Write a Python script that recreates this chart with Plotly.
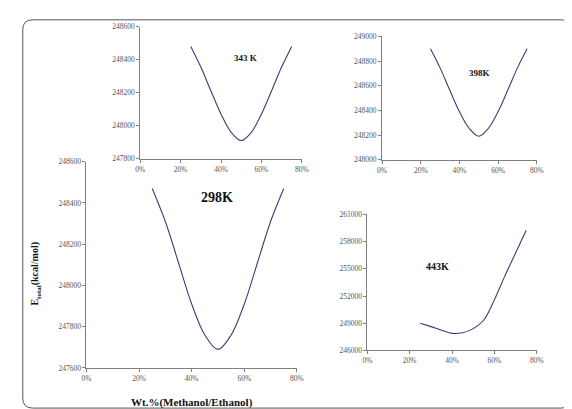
import plotly.graph_objects as go

W, H = 572, 409

# ---- data ----
wt_pct = [25, 30, 35, 40, 45, 50, 55, 60, 65, 70, 75]
e_298 = [248470, 248310, 248110, 247910, 247760, 247690, 247760, 247910, 248110, 248310, 248470]
e_343 = [248480, 248355, 248210, 248070, 247960, 247910, 247960, 248070, 248210, 248355, 248480]
e_398 = [248900, 248745, 248565, 248390, 248255, 248190, 248255, 248390, 248565, 248745, 248900]
e_443 = [249000, 248620, 248230, 247880, 247950, 248400, 249350, 251600, 254250, 256750, 259250]

x_ticks = [0, 20, 40, 60, 80]
x_ticktext = ["0%", "20%", "40%", "60%", "80%"]
y_ticks_298 = [247600, 247800, 248000, 248200, 248400, 248600]
y_ticks_343 = [247800, 248000, 248200, 248400, 248600]
y_ticks_398 = [248000, 248200, 248400, 248600, 248800, 249000]
y_ticks_443 = [246000, 249000, 252000, 255000, 258000, 261000]

def px_x(a, b):
    return [a / W, b / W]

def px_y(top, bottom):
    return [1 - bottom / H, 1 - top / H]

line_col = "#3c3c78"
axis_col = "#808080"
tick_font = dict(family="Liberation Serif, Times New Roman, serif", size=7.5, color="#555555")

fig = go.Figure()

panels = [
    ("x", "y", e_298, y_ticks_298, (75, 290), (153, 364)),
    ("x2", "y2", e_343, y_ticks_343, (130, 295), (15, 150)),
    ("x3", "y3", e_398, y_ticks_398, (377, 535), (25, 151)),
    ("x4", "y4", e_443, y_ticks_443, (362, 535), (207, 346)),
]

layout = dict(
    width=W, height=H,
    margin=dict(l=0, r=0, t=0, b=0),
    paper_bgcolor="white", plot_bgcolor="white",
    showlegend=False,
)

for xa, ya, yv, yt, (xl, xr), (yt_px, yb_px) in panels:
    fig.add_trace(go.Scatter(
        x=wt_pct, y=yv, mode="lines", xaxis=xa, yaxis=ya,
        line=dict(color=line_col, width=1.1, shape="spline", smoothing=1.0),
        hoverinfo="skip",
    ))
    xkey = "xaxis" if xa == "x" else "xaxis" + xa[1:]
    ykey = "yaxis" if ya == "y" else "yaxis" + ya[1:]
    layout[xkey] = dict(
        domain=px_x(xl, xr), anchor=ya, range=[0, 80],
        tickvals=x_ticks, ticktext=x_ticktext,
        showline=True, linecolor=axis_col, linewidth=1,
        ticks="outside", ticklen=3, tickcolor=axis_col,
        showgrid=False, zeroline=False, tickfont=tick_font,
        fixedrange=True,
    )
    layout[ykey] = dict(
        domain=px_y(yt_px, yb_px), anchor=xa, range=[yt[0], yt[-1]],
        tickvals=yt, ticktext=[str(v) for v in yt],
        showline=True, linecolor=axis_col, linewidth=1,
        ticks="outside", ticklen=3, tickcolor=axis_col,
        showgrid=False, zeroline=False, tickfont=tick_font,
        fixedrange=True,
    )

fig.update_layout(**layout)

serif_b = "Liberation Serif, Times New Roman, serif"
labels = [
    ("x", "y", 49.5, 248425, "<b>298K</b>", 14),
    ("x2", "y2", 52, 248410, "<b>343 K</b>", 9),
    ("x3", "y3", 50.6, 248700, "<b>398K</b>", 9),
    ("x4", "y4", 33, 255280, "<b>443K</b>", 10),
]
for xa, ya, xv, yv, txt, sz in labels:
    fig.add_annotation(x=xv, y=yv, xref=xa, yref=ya, text=txt, showarrow=False,
                       xanchor="center", yanchor="middle",
                       font=dict(family=serif_b, size=sz, color="#111111"))

fig.add_annotation(x=23 / W, y=1 - 268 / H, xref="paper", yref="paper",
                   xanchor="center", yanchor="middle",
                   text="<b>E<sub>total</sub>(kcal/mol)</b>", textangle=-90, showarrow=False,
                   font=dict(family=serif_b, size=10, color="#111111"))
fig.add_annotation(x=183 / W, y=1 - 399 / H, xref="paper", yref="paper",
                   xanchor="center", yanchor="middle",
                   text="<b>Wt.%(Methanol/Ethanol)</b>", showarrow=False,
                   font=dict(family=serif_b, size=11, color="#111111"))

# rounded frame
x0, x1, y0, y1, r = 10, 570, 8, 405, 10
def P(x, y):
    return f"{x / W:.5f},{1 - y / H:.5f}"
path = (f"M {P(x0 + r, y0)} L {P(x1 - r, y0)} Q {P(x1, y0)} {P(x1, y0 + r)} "
        f"L {P(x1, y1 - r)} Q {P(x1, y1)} {P(x1 - r, y1)} "
        f"L {P(x0 + r, y1)} Q {P(x0, y1)} {P(x0, y1 - r)} "
        f"L {P(x0, y0 + r)} Q {P(x0, y0)} {P(x0 + r, y0)} Z")
fig.add_shape(type="path", path=path, xref="paper", yref="paper",
              line=dict(color="#555555", width=1), layer="below")

fig.write_html("out.html")
